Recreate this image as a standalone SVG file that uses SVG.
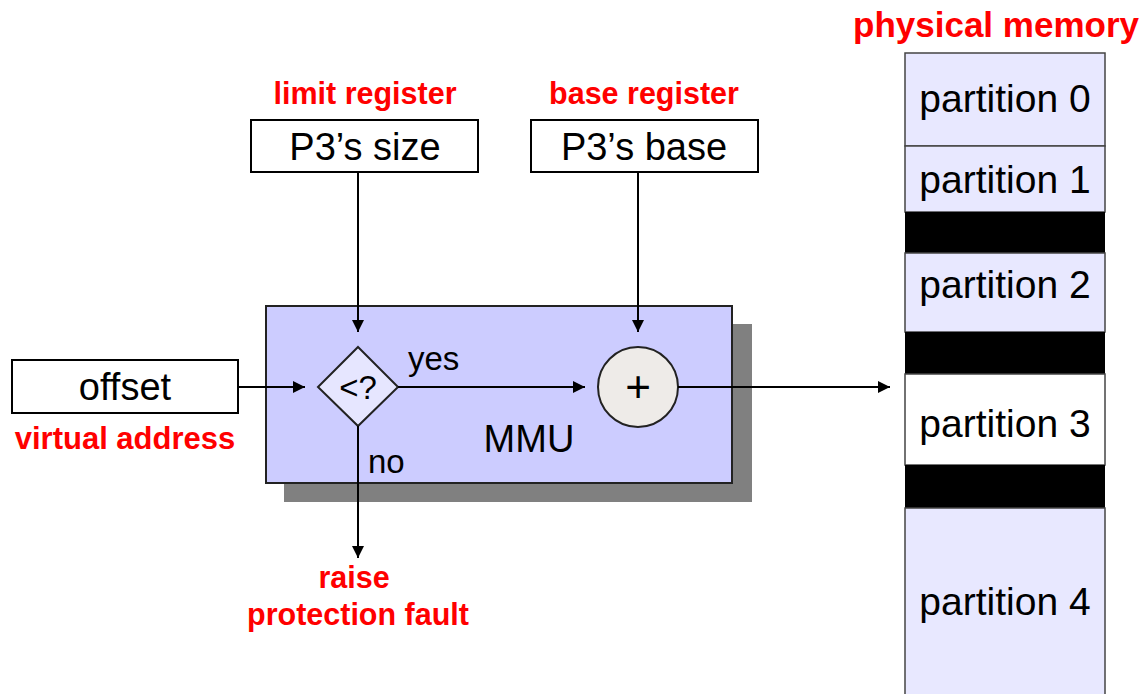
<svg xmlns="http://www.w3.org/2000/svg" width="1144" height="694" viewBox="0 0 1144 694">
<defs>
<marker id="arr" viewBox="0 0 10 10" refX="10" refY="5" markerWidth="12" markerHeight="12" markerUnits="userSpaceOnUse" orient="auto">
<path d="M0,0 L10,5 L0,10 z" fill="#000"/>
</marker>
<style>
.lbl{font-family:"Liberation Sans",Arial,sans-serif;fill:#000}
.red{font-family:"Liberation Sans",Arial,sans-serif;font-weight:bold;fill:#ff0000}
.box{fill:#fff;stroke:#000;stroke-width:2}
.part{fill:#e8e8ff;stroke:#444;stroke-width:1.5}
.gap{fill:#000}
.ln{stroke:#000;stroke-width:2;fill:none}
</style>
</defs>
<g id="mmu">
<rect x="284" y="324" width="468" height="178" fill="#808080"/>
<rect x="266" y="306" width="466" height="177" fill="#ccccff" stroke="#222" stroke-width="2"/>
<text class="lbl" x="529" y="452" font-size="38" text-anchor="middle">MMU</text>
</g>
<g id="limit">
<text class="red" x="365" y="104" font-size="30.5" text-anchor="middle">limit register</text>
<rect class="box" x="251" y="120" width="227" height="52"/>
<text class="lbl" x="365" y="160" font-size="38" text-anchor="middle">P3’s size</text>
</g>
<g id="base">
<text class="red" x="644" y="104" font-size="30.5" text-anchor="middle">base register</text>
<rect class="box" x="531" y="120" width="227" height="52"/>
<text class="lbl" x="644" y="160" font-size="38" text-anchor="middle">P3’s base</text>
</g>
<g id="offset">
<rect class="box" x="12" y="360" width="226" height="53"/>
<text class="lbl" x="125" y="400" font-size="38" text-anchor="middle">offset</text>
<text class="red" x="125" y="449" font-size="31" text-anchor="middle">virtual address</text>
</g>
<g id="compare">
<polygon points="358,347 398,387 358,426 318,387" fill="#e6e6ff" stroke="#222" stroke-width="2"/>
<text class="lbl" x="358" y="399" font-size="33" text-anchor="middle">&lt;?</text>
</g>
<g id="adder">
<circle cx="638" cy="387" r="40" fill="#eeebe8" stroke="#222" stroke-width="2"/>
<text class="lbl" x="638" y="402" font-size="44" text-anchor="middle">+</text>
</g>
<g id="fault">
<text class="red" x="354" y="588" font-size="30.5" text-anchor="middle">raise</text>
<text class="red" x="358" y="625" font-size="30.5" text-anchor="middle">protection fault</text>
</g>
<g id="memory">
<text class="red" x="996" y="37" font-size="35" text-anchor="middle">physical memory</text>
<rect class="part" x="905" y="53" width="200" height="93"/>
<rect class="part" x="905" y="146" width="200" height="66"/>
<rect class="gap" x="905" y="212" width="200" height="41"/>
<rect class="part" x="905" y="253" width="200" height="79"/>
<rect class="gap" x="905" y="332" width="200" height="42"/>
<rect x="905" y="374" width="200" height="91" fill="#fff" stroke="#444" stroke-width="1.5"/>
<rect class="gap" x="905" y="465" width="200" height="43"/>
<rect class="part" x="905" y="508" width="200" height="200"/>
<g class="lbl" font-size="39" text-anchor="middle">
<text x="1005" y="112">partition 0</text>
<text x="1005" y="193">partition 1</text>
<text x="1005" y="298">partition 2</text>
<text x="1005" y="437">partition 3</text>
<text x="1005" y="615">partition 4</text>
</g>
</g>
<g id="connectors">
<line class="ln" x1="358" y1="172" x2="358" y2="332" marker-end="url(#arr)"/>
<line class="ln" x1="638" y1="172" x2="638" y2="332" marker-end="url(#arr)"/>
<line class="ln" x1="238" y1="387" x2="305" y2="387" marker-end="url(#arr)"/>
<line class="ln" x1="398" y1="387" x2="585" y2="387" marker-end="url(#arr)"/>
<line class="ln" x1="678" y1="387" x2="890" y2="387" marker-end="url(#arr)"/>
<line class="ln" x1="358" y1="426" x2="358" y2="558" marker-end="url(#arr)"/>
<text class="lbl" x="408" y="370" font-size="33">yes</text>
<text class="lbl" x="368" y="473" font-size="33">no</text>
</g>
</svg>
